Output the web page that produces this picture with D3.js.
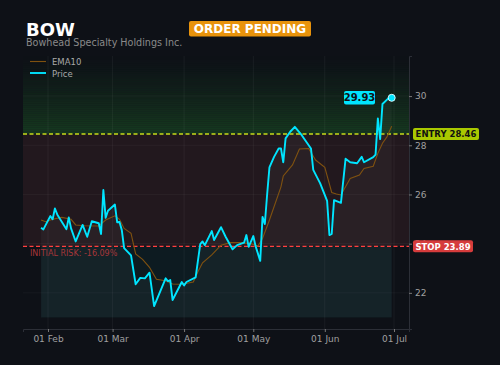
<!DOCTYPE html>
<html><head><meta charset="utf-8">
<script src="https://cdn.jsdelivr.net/npm/d3@7"></script>
<style>html,body{margin:0;padding:0;background:#0e1117;} svg{display:block;font-family:"DejaVu Sans",sans-serif;}</style>
</head><body><svg id="c" width="500" height="365"></svg>
<script>
const ticker = "BOW";
const company = "Bowhead Specialty Holdings Inc.";
const statusText = "ORDER PENDING";
const entryPrice = 28.46, stopPrice = 23.89, lastPrice = 29.93;
const riskText = "INITIAL RISK: -16.09%";

const priceDates = ["2025-01-29","2025-01-30","2025-02-02","2025-02-03","2025-02-04","2025-02-05","2025-02-09","2025-02-10","2025-02-11","2025-02-13","2025-02-16","2025-02-18","2025-02-20","2025-02-23","2025-02-24","2025-02-25","2025-02-26","2025-02-27","2025-03-02","2025-03-03","2025-03-04","2025-03-05","2025-03-06","2025-03-09","2025-03-11","2025-03-13","2025-03-15","2025-03-17","2025-03-19","2025-03-24","2025-03-25","2025-03-26","2025-03-27","2025-03-31","2025-04-01","2025-04-02","2025-04-06","2025-04-08","2025-04-09","2025-04-10","2025-04-13","2025-04-14","2025-04-17","2025-04-19","2025-04-22","2025-04-24","2025-04-27","2025-04-28","2025-04-29","2025-05-01","2025-05-02","2025-05-04","2025-05-05","2025-05-06","2025-05-07","2025-05-08","2025-05-10","2025-05-12","2025-05-13","2025-05-14","2025-05-15","2025-05-17","2025-05-19","2025-05-22","2025-05-26","2025-05-27","2025-05-30","2025-06-02","2025-06-03","2025-06-04","2025-06-05","2025-06-08","2025-06-10","2025-06-12","2025-06-15","2025-06-17","2025-06-18","2025-06-22","2025-06-23","2025-06-24","2025-06-25","2025-06-26","2025-06-29","2025-06-30"];
const priceValues = [24.65,24.58,25.12,24.99,25.43,25.19,24.59,25.07,24.62,24.09,24.76,24.28,24.91,24.83,24.39,26.18,25.05,25.34,25.59,24.87,24.88,24.55,23.82,23.52,22.35,22.61,22.59,22.82,21.46,22.59,22.47,22.52,21.71,22.44,22.30,22.44,22.63,23.98,24.09,23.94,24.51,24.15,24.67,24.28,23.77,23.94,24.04,24.35,23.87,24.31,23.90,23.30,25.09,24.80,26.00,27.10,27.53,27.87,27.87,27.31,28.28,28.55,28.75,28.41,27.87,27.00,26.45,25.74,24.35,24.40,25.77,25.66,27.45,27.31,27.27,27.53,27.31,27.52,27.62,29.09,28.25,29.68,29.95,29.93];

const emaDates = ["2025-01-29","2025-01-31","2025-02-03","2025-02-07","2025-02-11","2025-02-13","2025-02-17","2025-02-23","2025-02-26","2025-03-02","2025-03-04","2025-03-06","2025-03-09","2025-03-11","2025-03-14","2025-03-17","2025-03-20","2025-03-24","2025-03-27","2025-03-31","2025-04-05","2025-04-07","2025-04-09","2025-04-13","2025-04-17","2025-04-21","2025-04-25","2025-04-30","2025-05-03","2025-05-05","2025-05-08","2025-05-10","2025-05-13","2025-05-14","2025-05-18","2025-05-21","2025-05-25","2025-05-28","2025-06-01","2025-06-04","2025-06-06","2025-06-08","2025-06-12","2025-06-16","2025-06-18","2025-06-22","2025-06-24","2025-06-26","2025-06-28","2025-06-30"];
const emaValues = [24.96,24.89,24.99,25.07,24.99,24.76,24.73,24.72,24.96,25.13,24.99,24.62,24.42,23.58,23.36,23.04,22.55,22.49,22.36,22.35,22.44,22.86,23.22,23.54,23.94,24.04,24.04,24.00,23.90,24.21,24.96,25.50,26.31,26.75,27.20,27.85,27.87,27.40,27.10,26.08,26.02,25.98,26.65,26.79,27.06,27.15,27.67,28.08,28.35,28.78];

const xTickDates = ["2025-02-01","2025-03-01","2025-04-01","2025-05-01","2025-06-01","2025-07-01"];
const xTickLabels = ["01 Feb","01 Mar","01 Apr","01 May","01 Jun","01 Jul"];
const yTicks = [22,24,26,28,30];
const yDomain = [20.53, 31.63];
const zoneFloor = 21.0;

const parse = d3.utcParse("%Y-%m-%d");
const price = priceDates.map((d,i)=>({date:parse(d), v:priceValues[i]}));
const ema = emaDates.map((d,i)=>({date:parse(d), v:emaValues[i]}));

const L=23, R=409, T=56, B=329;
const x0 = d3.scaleUtc().domain([parse(xTickDates[0]), parse(xTickDates[5])]).range([48,394]);
const x = d3.scaleUtc().domain([x0.invert(L), x0.invert(R)]).range([L,R]);
const y = d3.scaleLinear().domain(yDomain).range([B,T]);

const svg = d3.select("#c");
svg.append("rect").attr("width",500).attr("height",365).attr("fill","#0e1117");

const plot = svg.append("g");
// green zone bands
const nb = 40;
const yTop = y.domain()[1];
for (let i=0;i<nb;i++){
  const v1 = yTop - (yTop-entryPrice)*i/nb, v2 = yTop - (yTop-entryPrice)*(i+1)/nb;
  plot.append("rect").attr("x",L).attr("width",R-L)
    .attr("y",y(v1)).attr("height",y(v2)-y(v1)+0.3)
    .attr("fill","#2fa83a").attr("opacity", 0.22*Math.pow((i+1)/nb,1.2));
}
// red zone
plot.append("rect").attr("x",L).attr("width",R-L).attr("y",y(entryPrice)).attr("height",y(stopPrice)-y(entryPrice))
  .attr("fill","#22181e");
// teal zone
const x1 = x(price[0].date), x2 = x(price[price.length-1].date);
plot.append("rect").attr("x",x1).attr("width",x2-x1).attr("y",y(stopPrice)).attr("height",y(zoneFloor)-y(stopPrice))
  .attr("fill","#0d1b21");

// grid
plot.selectAll(".vg").data(xTickDates).join("line").attr("x1",d=>x(parse(d))).attr("x2",d=>x(parse(d)))
  .attr("y1",T).attr("y2",B).attr("stroke","#ffffff").attr("stroke-opacity",0.05);
plot.selectAll(".hg").data(yTicks).join("line").attr("x1",L).attr("x2",R).attr("y1",d=>y(d)).attr("y2",d=>y(d))
  .attr("stroke","#ffffff").attr("stroke-opacity",0.04);

// price fill
plot.append("path").datum(price)
  .attr("d", d3.area().x(d=>x(d.date)).y0(y(zoneFloor)).y1(d=>y(d.v)))
  .attr("fill","#ffffff").attr("opacity",0.035);

// entry & stop lines
plot.append("line").attr("x1",L).attr("x2",R).attr("y1",y(entryPrice)).attr("y2",y(entryPrice))
  .attr("stroke","#c6dc1a").attr("stroke-width",1.4).attr("stroke-dasharray","4,2.5");
plot.append("line").attr("x1",L).attr("x2",R).attr("y1",y(stopPrice)).attr("y2",y(stopPrice))
  .attr("stroke","#ff3f3f").attr("stroke-width",1.3).attr("stroke-dasharray","4,2.5");

// lines
plot.append("path").datum(ema).attr("d", d3.line().x(d=>x(d.date)).y(d=>y(d.v)))
  .attr("fill","none").attr("stroke","#7f5110").attr("stroke-width",1.1);
plot.append("path").datum(price).attr("d", d3.line().x(d=>x(d.date)).y(d=>y(d.v)))
  .attr("fill","none").attr("stroke","#00e5ff").attr("stroke-width",1.9).attr("stroke-linejoin","round");

// risk text
svg.append("text").attr("x",30).attr("y",y(stopPrice)+10).text(riskText)
  .attr("font-size",8).attr("fill","#a8363a");

// axes
const xa = svg.append("g").attr("transform",`translate(0,${B})`)
  .call(d3.axisBottom(x).tickValues(xTickDates.map(parse)).tickFormat((d,i)=>xTickLabels[i]).tickSize(3).tickPadding(4));
const ya = svg.append("g").attr("transform",`translate(${R},0)`)
  .call(d3.axisRight(y).tickValues(yTicks).tickSize(3).tickPadding(3));
[xa,ya].forEach(a=>{
  a.select(".domain").attr("stroke","#2c2f37");
  a.selectAll(".tick line").attr("stroke","#777");
  a.selectAll(".tick text").attr("fill","#a0a0a0").attr("font-size",9).attr("font-family","DejaVu Sans");
});

// last price marker
const lp = price[price.length-1];
svg.append("circle").attr("cx",x(lp.date)).attr("cy",y(lp.v)).attr("r",3.5)
  .attr("fill","#00e5ff").attr("stroke","#d8faff").attr("stroke-width",1);
const py = y(lastPrice);
svg.append("rect").attr("x",344).attr("y",py-6.8).attr("width",31).attr("height",13.5).attr("rx",2).attr("fill","#00e5ff");
svg.append("text").attr("x",359.5).attr("y",py+3.6).attr("text-anchor","middle").text(lastPrice.toFixed(2))
  .attr("font-size",10).attr("font-weight","bold").attr("fill","#0e1117");

// entry label
const ey = y(entryPrice);
svg.append("rect").attr("x",413).attr("y",ey-6).attr("width",66).attr("height",12).attr("rx",2).attr("fill","#a9c800");
svg.append("text").attr("x",446).attr("y",ey+3.2).attr("text-anchor","middle").text("ENTRY "+entryPrice.toFixed(2))
  .attr("font-size",8.5).attr("font-weight","bold").attr("fill","#111");
// stop label
const sy = y(stopPrice);
svg.append("rect").attr("x",413).attr("y",sy-6).attr("width",60).attr("height",12).attr("rx",2).attr("fill","#d63c3c");
svg.append("text").attr("x",443).attr("y",sy+3.2).attr("text-anchor","middle").text("STOP "+stopPrice.toFixed(2))
  .attr("font-size",8.5).attr("font-weight","bold").attr("fill","#fff");

// legend
const lg = svg.append("g");
lg.append("line").attr("x1",30).attr("x2",46).attr("y1",61.5).attr("y2",61.5).attr("stroke","#7f5110").attr("stroke-width",1.1);
lg.append("line").attr("x1",30).attr("x2",46).attr("y1",73).attr("y2",73).attr("stroke","#00e5ff").attr("stroke-width",1.9);
lg.append("text").attr("x",52).attr("y",65).text("EMA10").attr("font-size",8.5).attr("fill","#a8a8a8");
lg.append("text").attr("x",52).attr("y",76.5).text("Price").attr("font-size",8.5).attr("fill","#a8a8a8");

// title
svg.append("text").attr("x",26).attr("y",35.5).text(ticker).attr("font-size",18).attr("font-weight","bold").attr("fill","#ffffff");
svg.append("text").attr("x",26).attr("y",46).text(company).attr("font-size",9.6).attr("fill","#8a8a8a");
// badge
svg.append("rect").attr("x",189).attr("y",21).attr("width",122).attr("height",15.5).attr("rx",2).attr("fill","#e8930c");
svg.append("text").attr("x",250).attr("y",33).attr("text-anchor","middle").text(statusText)
  .attr("font-size",12).attr("font-weight","bold").attr("fill","#ffffff");
</script></body></html>
